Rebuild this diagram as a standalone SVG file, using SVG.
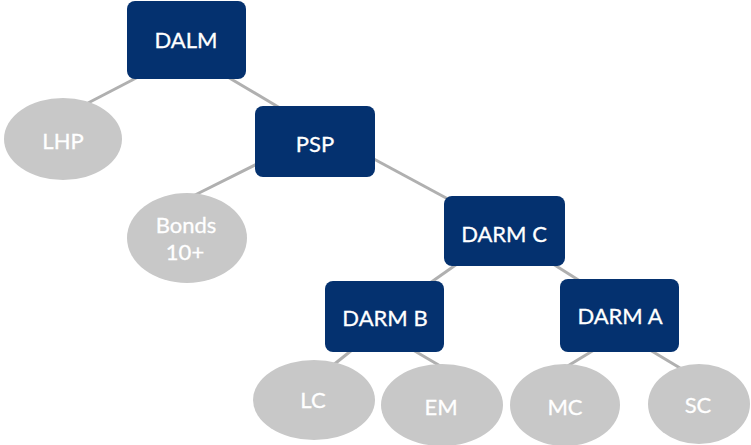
<svg xmlns="http://www.w3.org/2000/svg" width="751" height="445" viewBox="0 0 751 445">
<style>
.box{fill:#04316f;}
.leaf{fill:#c8c8c8;}
.t{font-family:Lato,"Open Sans",sans-serif;font-size:22px;fill:#ffffff;stroke:#ffffff;stroke-width:0.3;text-anchor:middle;}
.c line{stroke:#b0b0b0;stroke-width:3;}
</style>
<rect width="751" height="445" fill="#ffffff"/>
<g class="c" id="connectors">
<line x1="140" y1="76" x2="88" y2="103"/>
<line x1="226" y1="76" x2="280" y2="108"/>
<line x1="257" y1="164" x2="193" y2="196"/>
<line x1="372" y1="158" x2="448" y2="199"/>
<line x1="457" y1="264" x2="430" y2="283"/>
<line x1="553" y1="264" x2="580" y2="281"/>
<line x1="352" y1="350" x2="332" y2="366"/>
<line x1="413" y1="350" x2="442" y2="367"/>
<line x1="594" y1="350" x2="566" y2="367"/>
<line x1="650" y1="350" x2="680" y2="368"/>
</g>
<g id="DALM"><rect class="box" x="127" y="1" width="119" height="78" rx="8"/><text class="t" x="186" y="48">DALM</text></g>
<g id="PSP"><rect class="box" x="255" y="106" width="120" height="71" rx="8"/><text class="t" x="315" y="152">PSP</text></g>
<g id="DARMC"><rect class="box" x="444" y="196" width="121" height="70" rx="8"/><text class="t" x="504" y="242">DARM C</text></g>
<g id="DARMB"><rect class="box" x="325" y="281" width="119" height="71" rx="8"/><text class="t" x="385" y="326">DARM B</text></g>
<g id="DARMA"><rect class="box" x="560" y="279" width="119" height="73" rx="8"/><text class="t" x="620" y="324">DARM A</text></g>
<g id="LHP"><ellipse class="leaf" cx="63" cy="139" rx="59" ry="41"/><text class="t" x="63" y="149">LHP</text></g>
<g id="Bonds"><ellipse class="leaf" cx="187" cy="238" rx="60" ry="45"/><text class="t" x="186" y="233">Bonds</text><text class="t" x="185" y="260">10+</text></g>
<g id="LC"><ellipse class="leaf" cx="314" cy="400" rx="61" ry="40"/><text class="t" x="313" y="408">LC</text></g>
<g id="EM"><ellipse class="leaf" cx="442" cy="405" rx="61" ry="41"/><text class="t" x="441" y="415">EM</text></g>
<g id="MC"><ellipse class="leaf" cx="565" cy="405" rx="55" ry="41"/><text class="t" x="565" y="415">MC</text></g>
<g id="SC"><ellipse class="leaf" cx="699" cy="404" rx="51" ry="40"/><text class="t" x="698" y="413">SC</text></g>
</svg>
